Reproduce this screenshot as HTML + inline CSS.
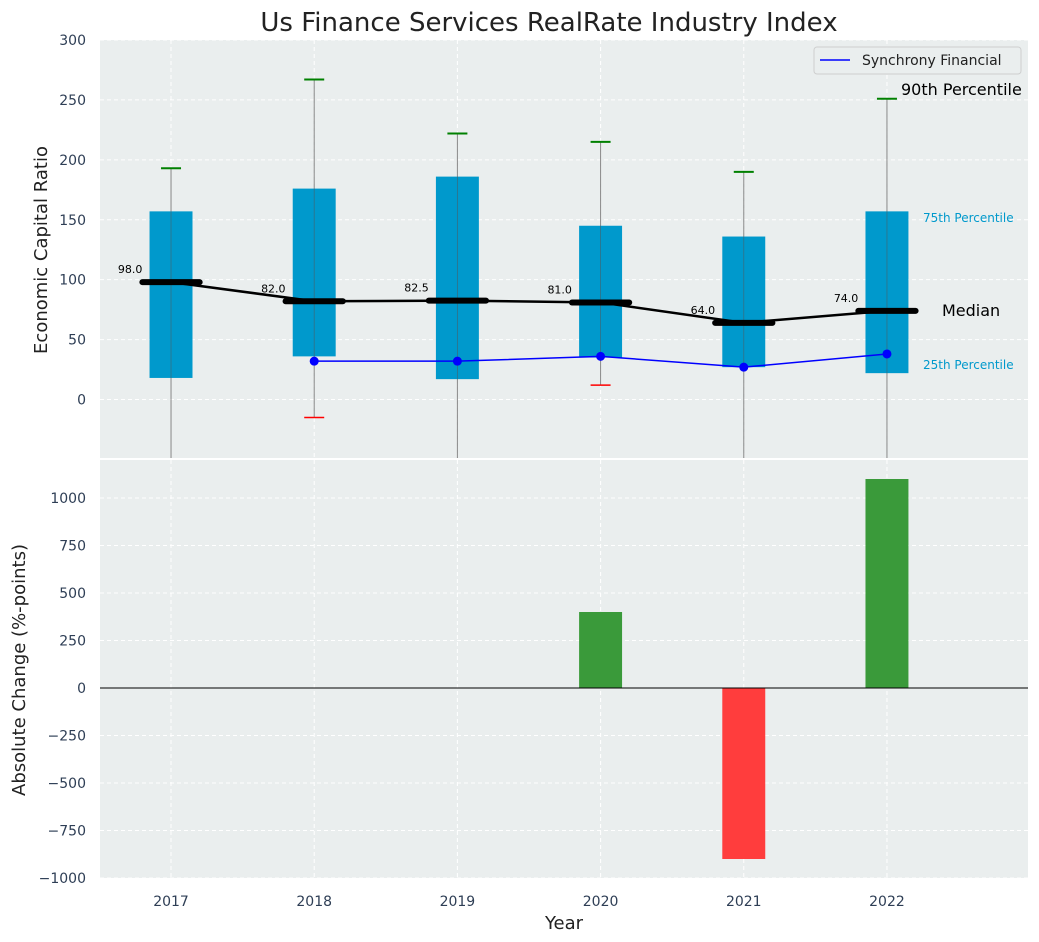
<!DOCTYPE html>
<html><head><meta charset="utf-8">
<style>
html,body{margin:0;padding:0;background:#fff;}
svg{display:block;font-family:"DejaVu Sans","Liberation Sans",sans-serif;}
</style></head>
<body>
<svg id="chart" width="1039" height="942" xmlns="http://www.w3.org/2000/svg"></svg>
<script>
const years = [2017, 2018, 2019, 2020, 2021, 2022];
const p25 = [18, 36, 17, 35, 27, 22];
const p75 = [157, 176, 186, 145, 136, 157];
const medians = [98.0, 82.0, 82.5, 81.0, 64.0, 74.0];
const p90 = [193, 267, 222, 215, 190, 251];
const p10 = [-80, -15, -80, 12, -80, -80];
const syncYears = [2018, 2019, 2020, 2021, 2022];
const syncValues = [32, 32, 36, 27, 38];
const changeYears = [2020, 2021, 2022];
const changeValues = [400, -900, 1100];
const topTicks = [0, 50, 100, 150, 200, 250, 300];
const botTicks = [-1000, -750, -500, -250, 0, 250, 500, 750, 1000];

const svg = document.getElementById('chart');
const NS = 'http://www.w3.org/2000/svg';
function mk(tag, attrs, parent) {
  const e = document.createElementNS(NS, tag);
  for (const k in attrs) e.setAttribute(k, attrs[k]);
  (parent || svg).appendChild(e);
  return e;
}
const L = 100, R = 1028;
const X0 = 2016.504, X1 = 2022.985;
const x = v => L + (v - X0) / (X1 - X0) * (R - L);
const yT = v => 40 + (300 - v) / (300 + 48.8) * (458 - 40);
const yB = v => 460 + (1200 - v) / 2200 * (878 - 460);
const cw = (R - L) / (X1 - X0);

let e;
e = mk('rect', {x: L, y: 40, width: R - L, height: 418, fill: '#eaeeee'});


e = mk('rect', {x: L, y: 460, width: R - L, height: 418, fill: '#eaeeee'});



years.forEach(yr => {
  mk('line', {x1: x(yr), x2: x(yr), y1: 40, y2: 458, stroke: '#fff', 'stroke-dasharray': '4,3', 'stroke-width': 1});
  mk('line', {x1: x(yr), x2: x(yr), y1: 460, y2: 878, stroke: '#fff', 'stroke-dasharray': '4,3', 'stroke-width': 1});
});
topTicks.forEach(t => {
  mk('line', {x1: L, x2: R, y1: yT(t), y2: yT(t), stroke: '#fff', 'stroke-dasharray': '4,3'});
  e = mk('text', {x: 86, y: yT(t) + 5, 'text-anchor': 'end', 'font-size': 14, fill: '#2e3e55'});
  e.textContent = t;
  
  
});
botTicks.forEach(t => {
  mk('line', {x1: L, x2: R, y1: yB(t), y2: yB(t), stroke: '#fff', 'stroke-dasharray': '4,3'});
  e = mk('text', {x: 86, y: yB(t) + 5, 'text-anchor': 'end', 'font-size': 14, fill: '#2e3e55'});
  e.textContent = t < 0 ? '\u2212' + (-t) : t;
  
  
});

const clipTop = mk('clipPath', {id: 'ct'});
mk('rect', {x: L, y: 40, width: R - L, height: 418}, clipTop);
const g = mk('g', {'clip-path': 'url(#ct)'});
years.forEach((yr, i) => {
  const cx = x(yr);
  e = mk('line', {x1: cx, x2: cx, y1: yT(p90[i]), y2: yT(p10[i]), stroke: '#888', 'stroke-width': 1}, g);
  
  
  e = mk('rect', {x: cx - 0.15 * cw, y: yT(p75[i]), width: 0.3 * cw, height: yT(p25[i]) - yT(p75[i]), fill: '#0099cc'}, g);
  
  
  mk('line', {x1: cx, x2: cx, y1: yT(p75[i]), y2: yT(p25[i]), stroke: '#555', 'stroke-width': 0.8, opacity: 0.6}, g);
  e = mk('line', {x1: cx - 10, x2: cx + 10, y1: yT(p90[i]), y2: yT(p90[i]), stroke: 'green', 'stroke-width': 2}, g);
  
  
  e = mk('line', {x1: cx - 10, x2: cx + 10, y1: yT(p10[i]), y2: yT(p10[i]), stroke: 'red', 'stroke-width': 1.5}, g);
  
  
});
e = mk('polyline', {points: years.map((yr, i) => x(yr) + ',' + yT(medians[i])).join(' '), fill: 'none', stroke: '#000', 'stroke-width': 2.5}, g);


years.forEach((yr, i) => {
  e = mk('line', {x1: x(yr) - 0.2 * cw, x2: x(yr) + 0.2 * cw, y1: yT(medians[i]), y2: yT(medians[i]), stroke: '#000', 'stroke-width': 6, 'stroke-linecap': 'round'}, g);
  
  
  e = mk('text', {x: x(yr) - 0.2 * cw, y: yT(medians[i]) - 9, 'text-anchor': 'end', 'font-size': 11, fill: '#000'});
  e.textContent = medians[i].toFixed(1);
  
  
});
e = mk('polyline', {points: syncYears.map((yr, i) => x(yr) + ',' + yT(syncValues[i])).join(' '), fill: 'none', stroke: '#0000ff', 'stroke-width': 1.5}, g);


syncYears.forEach((yr, i) => {
  e = mk('circle', {cx: x(yr), cy: yT(syncValues[i]), r: 4.5, fill: '#0000ff'}, g);
  
  
});

const ann = [
  ['90th Percentile', 901, 95, 16, '#000', 'p90-annotation'],
  ['75th Percentile', 923, 222, 12, '#0099cc', 'p75-annotation'],
  ['Median', 942, 316, 16, '#000', 'median-annotation'],
  ['25th Percentile', 923, 369, 12, '#0099cc', 'p25-annotation']
];
ann.forEach(a => {
  e = mk('text', {x: a[1], y: a[2], 'font-size': a[3], fill: a[4]});
  e.textContent = a[0];
  
  
});

const lg = mk('g', {});


mk('rect', {x: 814, y: 47, width: 207, height: 27, rx: 3, fill: '#eaeeee', stroke: '#ccc', opacity: 0.9}, lg);
mk('line', {x1: 820, x2: 850, y1: 60, y2: 60, stroke: '#0000ff', 'stroke-width': 1.5}, lg);
e = mk('text', {x: 862, y: 65, 'font-size': 14, fill: '#222'}, lg);
e.textContent = 'Synchrony Financial';



changeYears.forEach((yr, i) => {
  const v = changeValues[i];
  e = mk('rect', {x: x(yr) - 0.15 * cw, y: Math.min(yB(v), yB(0)), width: 0.3 * cw, height: Math.abs(yB(v) - yB(0)), fill: v >= 0 ? '#3a9a3a' : '#ff3d3d'});
  
  
});
e = mk('line', {x1: L, x2: R, y1: yB(0), y2: yB(0), stroke: '#000', 'stroke-width': 1});



years.forEach(yr => {
  e = mk('text', {x: x(yr), y: 906, 'text-anchor': 'middle', 'font-size': 14, fill: '#2e3e55'});
  e.textContent = yr;
  
  
});

e = mk('text', {x: 549, y: 31, 'text-anchor': 'middle', 'font-size': 26, fill: '#222'});
e.textContent = 'Us Finance Services RealRate Industry Index';


e = mk('text', {x: 564, y: 929, 'text-anchor': 'middle', 'font-size': 18, fill: '#222'});
e.textContent = 'Year';


e = mk('text', {x: 47, y: 250, 'text-anchor': 'middle', 'font-size': 18, fill: '#222', transform: 'rotate(-90 47 250)'});
e.textContent = 'Economic Capital Ratio';


e = mk('text', {x: 25, y: 670, 'text-anchor': 'middle', 'font-size': 18, fill: '#222', transform: 'rotate(-90 25 670)'});
e.textContent = 'Absolute Change (%-points)';


</script>
</body></html>
